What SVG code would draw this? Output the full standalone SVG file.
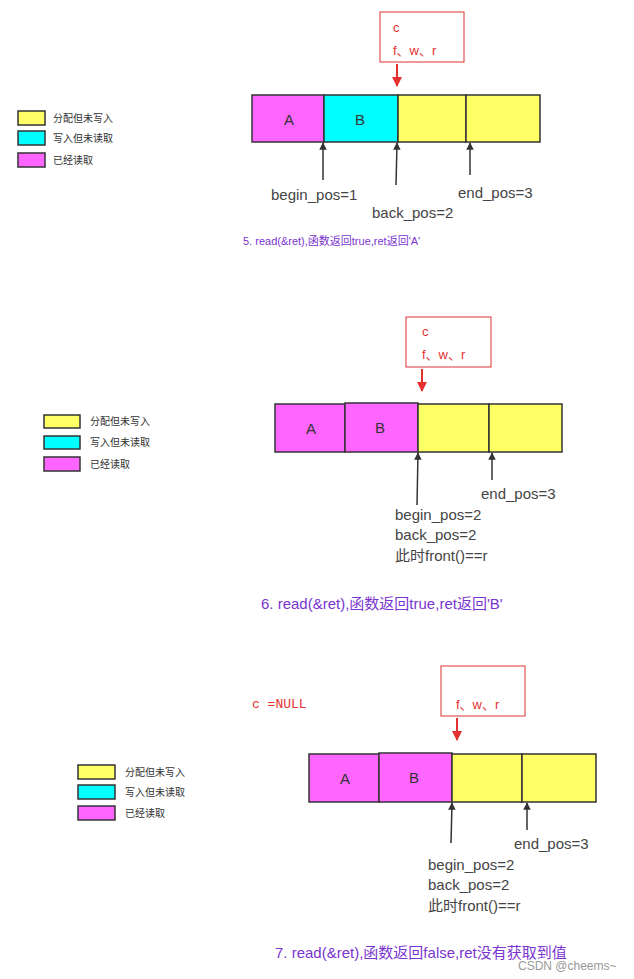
<svg xmlns="http://www.w3.org/2000/svg" width="634" height="979" viewBox="0 0 634 979">
<defs>
<marker id="ab" viewBox="0 0 10 10" refX="9" refY="5" markerWidth="5" markerHeight="7" orient="auto"><path d="M0,0L10,5L0,10z" fill="#333"/></marker>
<marker id="ar" viewBox="0 0 10 10" refX="9" refY="5" markerWidth="5" markerHeight="7" orient="auto"><path d="M0,0L10,5L0,10z" fill="#e53030"/></marker>
<style>
.c{stroke:#333;stroke-width:1.5}.m{fill:#ff66ff}.y{fill:#ffff66}.q{fill:#00ffff}
.lg{font:10px "Noto Sans CJK SC",sans-serif;fill:#333}
.lb{font:15px "Liberation Sans","Noto Sans CJK SC",sans-serif;fill:#444}
.cl{font:22px "Liberation Sans",sans-serif;fill:#333;text-anchor:middle;font-size:15px}
.rb{fill:#fff;stroke:#d33;stroke-width:1}
.rt{font:13px "Liberation Sans","Noto Sans CJK SC",sans-serif;fill:#e53030}
.pu{font:15px "Liberation Sans","Noto Sans CJK SC",sans-serif;fill:#7a35d0}
.ar{stroke:#333;stroke-width:1.5;marker-end:url(#ab)}
.arr{stroke:#e53030;stroke-width:2;marker-end:url(#ar)}
</style>
</defs>
<rect width="634" height="979" fill="#fff"/>
<g id="legend1">
<rect x="18" y="111" width="27" height="14" class="c y"/><text x="53" y="122" class="lg">分配但未写入</text>
<rect x="18" y="131" width="27" height="14" class="c q"/><text x="53" y="142" class="lg">写入但未读取</text>
<rect x="18" y="153" width="27" height="14" class="c m"/><text x="53" y="164" class="lg">已经读取</text>
</g>
<g id="buf1">
<rect x="252" y="95" width="72" height="47" class="c m"/><text x="289" y="125" class="cl">A</text>
<rect x="324" y="95" width="74" height="47" class="c q"/><text x="360" y="125" class="cl">B</text>
<rect x="398" y="95" width="68" height="47" class="c y"/>
<rect x="466" y="95" width="74" height="47" class="c y"/>
</g>
<g id="ptr1">
<rect x="380" y="12" width="84" height="50" class="rb"/>
<text x="393" y="32" class="rt">c</text><text x="393" y="55" class="rt">f、w、r</text>
<text x="271" y="200" class="lb">begin_pos=1</text>
<text x="372" y="218" class="lb">back_pos=2</text>
<text x="458" y="198" class="lb">end_pos=3</text>
<text x="243" y="245" class="pu" style="font-size:11px">5. read(&amp;ret),函数返回true,ret返回'A'</text>
</g>
<g id="legend2">
<rect x="44" y="415" width="36" height="13" class="c y"/><text x="90" y="425" class="lg">分配但未写入</text>
<rect x="44" y="436" width="36" height="13" class="c q"/><text x="90" y="446" class="lg">写入但未读取</text>
<rect x="44" y="457" width="36" height="14" class="c m"/><text x="90" y="468" class="lg">已经读取</text>
</g>
<g id="buf2">
<rect x="275" y="404" width="70" height="48" class="c m"/><text x="311" y="434" class="cl">A</text>
<rect x="345" y="403" width="73" height="49" class="c m"/><text x="380" y="433" class="cl">B</text>
<rect x="418" y="404" width="71" height="48" class="c y"/>
<rect x="489" y="404" width="73" height="48" class="c y"/>
</g>
<g id="ptr2">
<rect x="406" y="317" width="85" height="50" class="rb"/>
<text x="422" y="336" class="rt">c</text><text x="422" y="359" class="rt">f、w、r</text>
<text x="481" y="499" class="lb">end_pos=3</text>
<text x="395" y="520" class="lb">begin_pos=2</text>
<text x="395" y="540" class="lb">back_pos=2</text>
<text x="395" y="561" class="lb">此时front()==r</text>
<text x="261" y="609" class="pu">6. read(&amp;ret),函数返回true,ret返回'B'</text>
</g>
<g id="legend3">
<rect x="78" y="765" width="37" height="14" class="c y"/><text x="125" y="776" class="lg">分配但未写入</text>
<rect x="78" y="785" width="37" height="14" class="c q"/><text x="125" y="796" class="lg">写入但未读取</text>
<rect x="78" y="806" width="37" height="14" class="c m"/><text x="125" y="817" class="lg">已经读取</text>
</g>
<g id="buf3">
<rect x="309" y="754" width="70" height="48" class="c m"/><text x="345" y="784" class="cl">A</text>
<rect x="379" y="753" width="73" height="49" class="c m"/><text x="414" y="783" class="cl">B</text>
<rect x="452" y="754" width="70" height="48" class="c y"/>
<rect x="522" y="754" width="74" height="48" class="c y"/>
</g>
<g id="ptr3">
<text x="252" y="708" style="font:13px 'Liberation Mono',monospace;fill:#e53030">c =NULL</text>
<rect x="441" y="666" width="84" height="50" class="rb"/>
<text x="456" y="709" class="rt">f、w、r</text>
<text x="514" y="849" class="lb">end_pos=3</text>
<text x="428" y="870" class="lb">begin_pos=2</text>
<text x="428" y="890" class="lb">back_pos=2</text>
<text x="428" y="911" class="lb">此时front()==r</text>
<text x="275" y="958" class="pu">7. read(&amp;ret),函数返回false,ret没有获取到值</text>
<text x="518" y="970" style="font:12px 'Liberation Sans',sans-serif;fill:#999">CSDN @cheems~</text>
</g>
<g id="connectors">
<line x1="397" y1="64" x2="397" y2="86" class="arr"/>
<line x1="323" y1="180" x2="323" y2="143" class="ar"/>
<line x1="396" y1="185" x2="397" y2="143" class="ar"/>
<line x1="470" y1="175" x2="470" y2="143" class="ar"/>
<line x1="422" y1="369" x2="422" y2="391" class="arr"/>
<line x1="417" y1="505" x2="418" y2="453" class="ar"/>
<line x1="492" y1="480" x2="492" y2="453" class="ar"/>
<line x1="457" y1="718" x2="457" y2="740" class="arr"/>
<line x1="451" y1="843" x2="452" y2="803" class="ar"/>
<line x1="527" y1="830" x2="527" y2="803" class="ar"/>
</g>
</svg>
